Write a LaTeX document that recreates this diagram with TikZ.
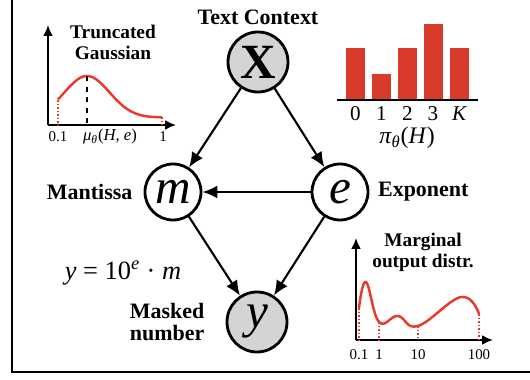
\documentclass[tikz,border=0pt]{standalone}
\usepackage{fontspec}
\setmainfont{Liberation Serif}
\usetikzlibrary{arrows.meta,positioning}
\definecolor{barred}{RGB}{217,59,43}
\definecolor{curvered}{RGB}{232,57,43}
\definecolor{nodegray}{RGB}{212,212,212}

\begin{document}
\begin{tikzpicture}[
		var/.style={circle, draw, line width=1.6pt, minimum size=1.12cm, inner sep=0pt, font=\itshape\fontsize{28}{28}\selectfont},
		obs/.style={var, fill=nodegray, minimum size=1.2cm},
		edge/.style={-{Latex[length=3mm,width=2.6mm]}, line width=1.2pt},
		axis/.style={-{Latex[length=2.2mm,width=2mm]}, line width=1.1pt},
		lbl/.style={font=\bfseries\fontsize{12.5}{13}\selectfont},
		ttl/.style={font=\bfseries\fontsize{11}{12}\selectfont, align=center},
		tick/.style={font=\fontsize{8.5}{9}\selectfont},
		redline/.style={curvered, line width=1.4pt},
		reddot/.style={curvered, densely dotted, line width=1pt}
	]
		\useasboundingbox (0,0) rectangle (10.6,7.6);
		\draw[line width=1.7pt] (0.24,7.7) -- (0.24,0.16) -- (10.7,0.16);

		\node[obs] (X) at (5.16,6.36) {\upshape\bfseries X};
		\node[var] (m) at (3.46,3.76) {m};
		\node[var] (e) at (6.8,3.76) {e};
		\node[obs] (y) at (5.14,1.16) {y};

		\node[lbl, above=0pt of X] (ctx) {Text Context};
		\node[lbl, left=0.1cm of m] (mant) {Mantissa};
		\node[lbl, right=0.05cm of e] (expo) {Exponent};
		\node[lbl, align=center, left=0.3cm of y] (masked) {Masked\\number};
		\node[font=\fontsize{15}{15}\selectfont] (eq) at (2.46,2.14) {\textit{y} = 10\textsuperscript{\textit{e}} · \textit{m}};

		\draw[edge] (X) -- (m);
		\draw[edge] (X) -- (e);
		\draw[edge] (e) -- (m);
		\draw[edge] (m) -- (y);
		\draw[edge] (e) -- (y);

		% truncated gaussian
		\draw[axis] (0.96,5.1) -- (0.96,7.1);
		\draw[axis] (0.96,5.1) -- (3.52,5.1);
		\draw[redline] plot[domain=1.16:3.24, samples=40] (\x, {5.25+0.83*exp(-((\x-1.74)^2)/0.405)});
		\draw[reddot] (1.16,5.6) -- (1.16,5.1);
		\draw[reddot] (3.24,5.26) -- (3.24,5.1);
		\draw[dashed, line width=1pt] (1.74,6.08) -- (1.74,5.1);
		\node[ttl] (tg) at (2.26,6.76) {Truncated\\Gaussian};
		\node[tick] (tg1) at (1.16,4.86) {0.1};
		\node[font=\fontsize{9.5}{10}\selectfont] (tg2) at (2.2,4.86) {\textit{μ}\textsubscript{\textit{θ}}(\textit{H}, \textit{e})};
		\node[tick] (tg3) at (3.26,4.86) {1};

		% mixture weights
		\foreach \x/\h/\k in {7.11/1.04/0, 7.63/0.52/1, 8.15/1.04/2, 8.66/1.52/3, 9.19/1.04/\textit{K}}{
			\fill[barred] (\x-0.19,5.6) rectangle (\x+0.19,5.6+\h);
			\node[font=\fontsize{12}{12}\selectfont, inner sep=1pt] at (\x,5.32) {\k};
		}
		\draw[line width=1.1pt] (6.74,5.6) -- (9.56,5.6);
		\node[font=\fontsize{13.5}{14}\selectfont, inner sep=1pt] (pi) at (8.14,4.84) {\textit{π}\textsubscript{\textit{θ}}(\textit{H})};

		% marginal
		\draw[axis] (7.12,0.8) -- (7.12,2.84);
		\draw[axis] (7.12,0.8) -- (9.86,0.8);
		\draw[redline] plot[smooth, tension=0.7] coordinates {(7.18,1.44) (7.32,1.96) (7.58,1.16) (7.96,1.28) (8.36,1.08) (9.22,1.66) (9.58,1.32)};
		\foreach \x/\h in {7.18/1.44, 7.58/1.16, 8.36/1.08, 9.58/1.32}
			\draw[reddot] (\x,\h) -- (\x,0.8);
		\node[ttl] (mg) at (8.46,2.56) {Marginal\\output distr.};
		\node[tick] (mg1) at (7.18,0.5) {0.1};
		\node[tick] (mg2) at (7.58,0.5) {1};
		\node[tick] (mg3) at (8.36,0.5) {10};
		\node[tick] (mg4) at (9.58,0.5) {100};
	\end{tikzpicture}
\end{document}
